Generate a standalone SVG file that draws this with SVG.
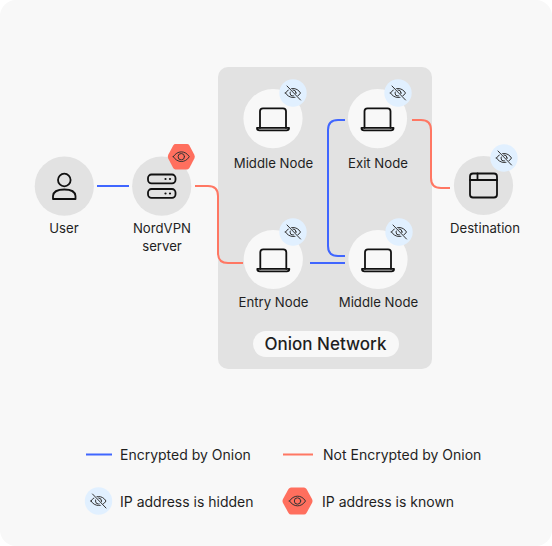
<svg xmlns="http://www.w3.org/2000/svg" width="552" height="546" viewBox="0 0 552 546">
<style>
text{font-family:Inter,"Liberation Sans",sans-serif;font-size:13.2px;fill:#1f1f1f;text-anchor:middle}
.leg{text-anchor:start;font-size:14px}
.blue{fill:none;stroke:#4066ff;stroke-width:2}
.red{fill:none;stroke:#ff7763;stroke-width:2}
.ico{fill:none;stroke:#111;stroke-width:1.8;stroke-linecap:round;stroke-linejoin:round}
.thin{fill:none;stroke:#333;stroke-width:1;stroke-linecap:round;stroke-linejoin:round}
.w{fill:#f8f8f8}.g{fill:#e2e2e2}.b{fill:#e1f0ff}.h{fill:#ff6f5e}
</style>
<defs>
<g id="hidden"><circle r="13.700" class="b"/><path class="thin" d="M-7.500 0C-4 -6 4 -6 7.500 0C4 6 -4 6 -7.500 0Z"/><circle r="3" class="thin"/><path d="M-5.500 -6.500L6.500 7" fill="none" stroke="#e1f0ff" stroke-width="2.600"/><path class="thin" d="M-6 -7L7.500 7"/></g>
<g id="known"><path class="h" d="M-6.500 -13.500H6.500Q8 -13.500 9 -12L14.500 -2Q15.500 0 14.500 2L9 12Q8 13.500 6.500 13.500H-6.500Q-8 13.500 -9 12L-14.500 2Q-15.500 0 -14.500 -2L-9 -12Q-8 -13.500 -6.500 -13.500Z"/></g>
<g id="eye"><path class="thin" d="M-8 0C-4 -6.500 4 -6.500 8 0C4 6.500 -4 6.500 -8 0Z"/><circle r="3.200" class="thin"/></g>
<g id="laptop"><path class="ico" d="M-13 9V-7.500Q-13 -10.500 -10 -10.500H10Q13 -10.500 13 -7.500V9"/><path class="ico" d="M-16 9H16V9.500Q16 11.500 13.500 11.500H-13.500Q-16 11.500 -16 9.500Z"/></g>
</defs>
<rect width="552" height="546" rx="16" class="w"/>
<rect x="218" y="67" width="214" height="302" rx="10" class="g"/>
<g id="connectors">
<path class="blue" d="M97 186H129"/>
<path class="red" d="M195 186H208Q218 186 218 196V253Q218 263 228 263H243"/>
<path class="blue" d="M345 120H338Q328 120 328 130V246Q328 256 338 256H345"/>
<path class="blue" d="M310 263H345"/>
<path class="red" d="M412 120H421Q431 120 431 130V178Q431 188 441 188H450"/>
</g>
<g id="node-user"><circle cx="64.300" cy="186.200" r="29.600" class="g"/><circle cx="64.300" cy="180" r="6.300" class="ico"/><path class="ico" d="M53 199V196Q53.500 189.500 64.300 189.500Q75 189.500 75.500 196V199Z"/><text x="64" y="233">User</text></g>
<g id="node-nordvpn"><circle cx="161.700" cy="186.200" r="29.600" class="g"/><rect x="148" y="174.500" width="27.500" height="8.800" rx="3.500" class="ico"/><rect x="148" y="189" width="27.500" height="8.800" rx="3.500" class="ico"/><g fill="#111"><circle cx="165.500" cy="179" r="1.100"/><circle cx="170" cy="179" r="1.100"/><circle cx="165.500" cy="193.500" r="1.100"/><circle cx="170" cy="193.500" r="1.100"/></g><use href="#known" transform="translate(181.300 156.700) scale(.9 .94)"/><use href="#eye" x="181.300" y="156.700"/><text x="162" y="233">NordVPN</text><text x="162" y="251">server</text></g>
<g id="node-middle-top"><circle cx="273" cy="118.600" r="29.600" class="w"/><use href="#laptop" x="273" y="118.800"/><use href="#hidden" x="293" y="93"/><text x="273.500" y="167.500">Middle Node</text></g>
<g id="node-exit"><circle cx="377.500" cy="118.600" r="29.600" class="w"/><use href="#laptop" x="377.500" y="118.800"/><use href="#hidden" x="398" y="93"/><text x="378" y="167.500">Exit Node</text></g>
<g id="node-entry"><circle cx="273.300" cy="259.500" r="29.600" class="w"/><use href="#laptop" x="273.300" y="259.800"/><use href="#hidden" x="293" y="232"/><text x="273.500" y="307">Entry Node</text></g>
<g id="node-middle-bottom"><circle cx="378" cy="259.500" r="29.600" class="w"/><use href="#laptop" x="378" y="259.800"/><use href="#hidden" x="399" y="232"/><text x="378.500" y="307">Middle Node</text></g>
<g id="node-destination"><circle cx="483.500" cy="185.500" r="29.600" class="g"/><rect x="470" y="173.500" width="27" height="24" rx="3" class="ico"/><path class="ico" d="M470 180H497M477.500 173.500V180"/><use href="#hidden" x="504" y="158"/><text x="485" y="233">Destination</text></g>
<g id="onion-label"><rect x="253" y="331" width="146" height="26" rx="13" class="w"/><text x="325.500" y="349.500" style="font-size:17px;font-weight:500">Onion Network</text></g>
<g id="legend">
<path class="blue" d="M86 454.500H112"/><text class="leg" x="120" y="459.500">Encrypted by Onion</text>
<path class="red" d="M283 454.500H313"/><text class="leg" x="323" y="459.500">Not Encrypted by Onion</text>
<use href="#hidden" x="98.500" y="501"/><text class="leg" x="120" y="506.500">IP address is hidden</text>
<use href="#known" x="297.500" y="501"/><use href="#eye" x="297.500" y="501"/><text class="leg" x="322" y="506.500">IP address is known</text>
</g>
</svg>
